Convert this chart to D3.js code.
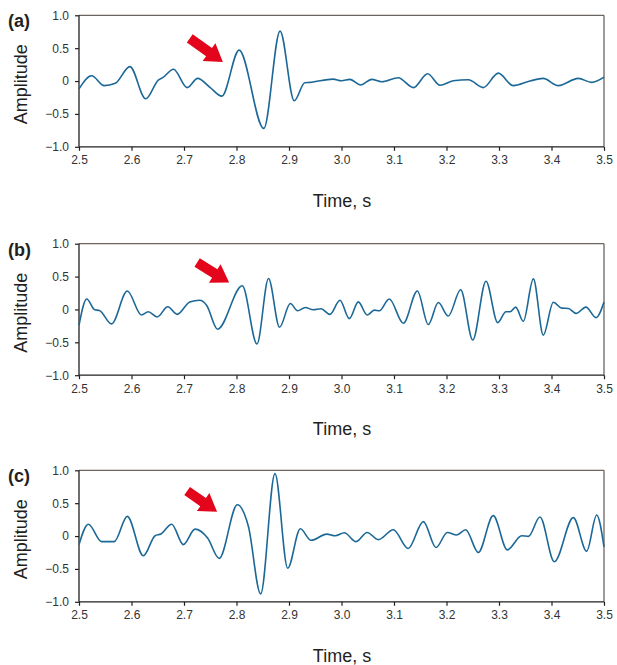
<!DOCTYPE html>
<html>
<head>
<meta charset="utf-8">
<script src="https://cdn.jsdelivr.net/npm/d3@7"></script>
<style>
  body { margin: 0; background: #fff; }
  svg { display: block; }
</style>
</head>
<body>
<div id="chart"></div>
<script>
// waveform (a): picked peaks / troughs
const timeA = [2.5, 2.524, 2.548, 2.569, 2.597, 2.627, 2.651, 2.66, 2.68, 2.706, 2.726, 2.75, 2.772,
    2.805, 2.852, 2.883, 2.91, 2.93, 2.94, 2.984, 3.0, 3.016, 3.0365, 3.0575, 3.0765, 3.108, 3.137,
    3.164, 3.1876, 3.213, 3.2416, 3.27, 3.2987, 3.327, 3.359, 3.384, 3.413, 3.451, 3.4766, 3.5];
const ampA = [-0.12, 0.08, -0.07, -0.035, 0.22, -0.27, 0.015, 0.055, 0.18, -0.10, 0.04, -0.10, -0.23,
    0.47, -0.72, 0.76, -0.30, -0.025, -0.02, 0.03, 0.005, 0.025, -0.06, 0.025, -0.01, 0.05, -0.10,
    0.11, -0.065, 0.005, 0.02, -0.10, 0.12, -0.07, 0.0, 0.04, -0.07, 0.04, -0.02, 0.06];

// waveform (b)
const timeB = [2.5, 2.5147, 2.53, 2.5388, 2.562, 2.592, 2.619, 2.632, 2.649, 2.669, 2.687, 2.711, 2.73,
    2.743, 2.764, 2.811, 2.839, 2.861, 2.882, 2.9025, 2.9165, 2.931, 2.946, 2.961, 2.978, 2.997,
    3.015, 3.032, 3.049, 3.0625, 3.072, 3.091, 3.1178, 3.1445, 3.1654, 3.1844, 3.2034, 3.227, 3.25,
    3.2752, 3.2975, 3.3133, 3.321, 3.3318, 3.3463, 3.3654, 3.3844, 3.4035, 3.4194, 3.4321, 3.4467,
    3.4657, 3.4848, 3.5];
const ampB = [-0.24, 0.16, -0.005, -0.015, -0.22, 0.28, -0.085, -0.035, -0.115, 0.04, -0.075, 0.115, 0.14,
    0.065, -0.30, 0.36, -0.525, 0.47, -0.27, 0.09, -0.02, 0.03, -0.005, 0.01, -0.075, 0.14,
    -0.14, 0.115, -0.085, -0.01, -0.02, 0.16, -0.21, 0.28, -0.23, 0.105, -0.10, 0.30, -0.465,
    0.43, -0.20, -0.035, -0.035, 0.035, -0.18, 0.465, -0.39, 0.11, 0.02, 0.015, -0.06,
    0.035, -0.125, 0.115];

// waveform (c)
const timeC = [2.5, 2.5178, 2.543, 2.567, 2.592, 2.6225, 2.645, 2.656, 2.6765, 2.6987, 2.721, 2.745, 2.767,
    2.8016, 2.8226, 2.846, 2.8733, 2.8975, 2.9216, 2.942, 2.972, 2.988, 3.0054, 3.0276, 3.049, 3.07,
    3.0987, 3.127, 3.1559, 3.18, 3.2016, 3.2194, 3.2365, 3.2606, 3.289, 3.3159, 3.3432, 3.356, 3.378,
    3.4054, 3.4416, 3.467, 3.4861, 3.5];
const ampC = [-0.13, 0.18, -0.085, -0.085, 0.30, -0.30, 0.005, 0.03, 0.18, -0.13, 0.105, -0.03, -0.34,
    0.475, 0.15, -0.88, 0.95, -0.49, 0.11, -0.065, 0.03, 0.005, 0.05, -0.085, 0.055, -0.055,
    0.095, -0.19, 0.22, -0.175, 0.055, 0.015, 0.095, -0.25, 0.31, -0.21, 0.005, -0.005, 0.29,
    -0.39, 0.28, -0.23, 0.32, -0.165];

const panelLabels = ["(a)", "(b)", "(c)"];
// arrow tail -> tip in data units, one per panel
const arrowTail = [[2.711, 0.65], [2.725, 0.715], [2.706, 0.685]];
const arrowTip = [[2.774, 0.29], [2.786, 0.41], [2.763, 0.37]];

const xTicks = [2.5, 2.6, 2.7, 2.8, 2.9, 3.0, 3.1, 3.2, 3.3, 3.4, 3.5];
const yTicks = [-1.0, -0.5, 0, 0.5, 1.0];

const width = 617, height = 665;
const left = 79, right = 604;
const panelTop = [15.3, 243.7, 470.3];
const plotH = 131.5;
const font = "Liberation Sans, Arial, sans-serif";

const svg = d3.select("#chart").append("svg")
    .attr("width", width)
    .attr("height", height);

const x = d3.scaleLinear().domain([2.5, 3.5]).range([left, right]);

const series = [
    { t: timeA, a: ampA },
    { t: timeB, a: ampB },
    { t: timeC, a: ampC }
];

const yFmt = d => d === 0 ? "0" : d3.format(".1f")(d).replace("-", "\u2212");

series.forEach(function (s, i) {
    const top = panelTop[i];
    const y = d3.scaleLinear().domain([-1, 1]).range([top + plotH, top]);

    // frame: top & right lighter grey
    svg.append("line")
        .attr("x1", left).attr("x2", right)
        .attr("y1", top).attr("y2", top)
        .attr("stroke", "#6b6561").attr("stroke-width", 1.3);
    svg.append("line")
        .attr("x1", right).attr("x2", right)
        .attr("y1", top).attr("y2", top + plotH)
        .attr("stroke", "#6b6561").attr("stroke-width", 1.3);

    // x axis
    const gx = svg.append("g")
        .attr("transform", `translate(0,${top + plotH})`)
        .call(d3.axisBottom(x).tickValues(xTicks).tickSize(4).tickPadding(5)
            .tickFormat(d3.format(".1f")));
    // y axis
    const gy = svg.append("g")
        .attr("transform", `translate(${left},0)`)
        .call(d3.axisLeft(y).tickValues(yTicks).tickSize(4).tickPadding(6)
            .tickFormat(yFmt));

    [gx, gy].forEach(function (g) {
        g.select(".domain").attr("stroke", "#231f20").attr("stroke-width", 1.3);
        g.selectAll(".tick line").attr("stroke", "#231f20").attr("stroke-width", 1.2);
        g.selectAll(".tick text")
            .attr("font-family", font)
            .attr("font-size", "12px")
            .attr("fill", "#333");
    });
    gx.select(".domain").attr("d", `M${left},0H${right}`);
    gy.select(".domain").attr("d", `M0,${top + plotH}V${top}`);

    // waveform
    const pts = s.t.map((t, k) => [t, s.a[k]]);
    svg.append("path")
        .datum(pts)
        .attr("fill", "none")
        .attr("stroke", "#1b6897")
        .attr("stroke-width", 1.6)
        .attr("d", d3.line()
            .x(d => x(d[0]))
            .y(d => y(d[1]))
            .curve(d3.curveMonotoneX));

    // red arrow
    const x0 = x(arrowTail[i][0]), y0 = y(arrowTail[i][1]);
    const x1 = x(arrowTip[i][0]), y1 = y(arrowTip[i][1]);
    const ang = Math.atan2(y1 - y0, x1 - x0) * 180 / Math.PI;
    const len = Math.hypot(x1 - x0, y1 - y0);
    const headL = 17, headW = 11, shaftW = 5;
    svg.append("path")
        .attr("transform", `translate(${x0},${y0}) rotate(${ang})`)
        .attr("d", `M0,${-shaftW}L${len - headL},${-shaftW}L${len - headL},${-headW}` +
            `L${len},0L${len - headL},${headW}L${len - headL},${shaftW}L0,${shaftW}Z`)
        .attr("fill", "#e3051b");

    // panel tag
    svg.append("text")
        .attr("x", 8)
        .attr("y", top + 12)
        .attr("font-family", font)
        .attr("font-size", "18px")
        .attr("font-weight", "bold")
        .attr("fill", "#231f20")
        .text(panelLabels[i]);

    // axis titles
    svg.append("text")
        .attr("transform", `translate(27,${top + 69}) rotate(-90)`)
        .attr("font-family", font)
        .attr("font-size", "18px")
        .style("text-anchor", "middle")
        .attr("fill", "#231f20")
        .text("Amplitude");

    svg.append("text")
        .attr("x", 342)
        .attr("y", top + plotH + 60)
        .attr("font-family", font)
        .attr("font-size", "18px")
        .style("text-anchor", "middle")
        .attr("fill", "#231f20")
        .text("Time, s");
});
</script>
</body>
</html>
